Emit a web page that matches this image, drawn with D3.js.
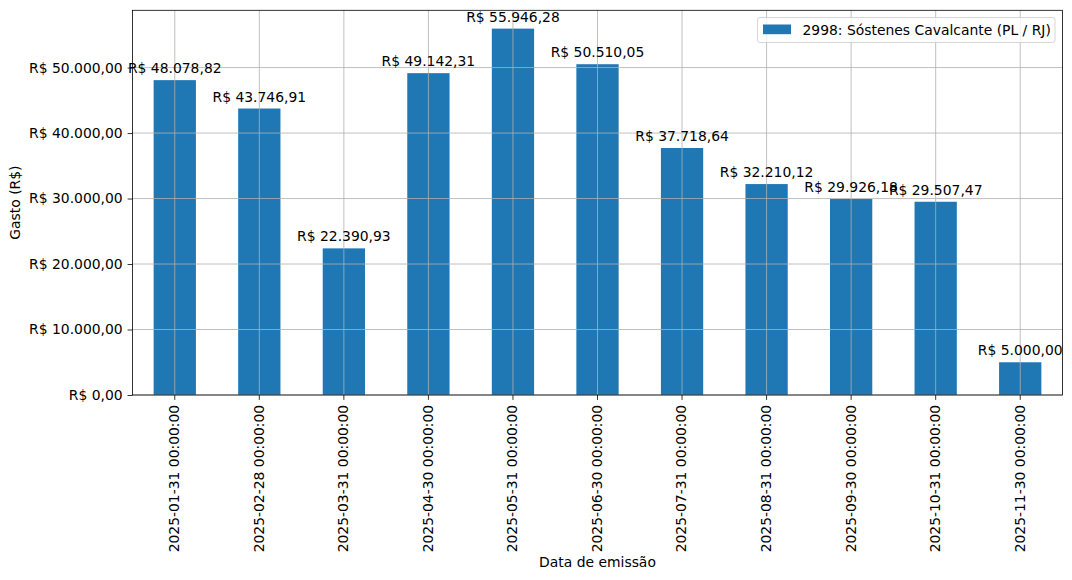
<!DOCTYPE html>
<html><head><meta charset="utf-8">
<script src="https://cdn.jsdelivr.net/npm/d3@7"></script>
<style>
body{margin:0;background:#fff;}
text{font-family:"DejaVu Sans",sans-serif;fill:#000;}
</style></head>
<body><svg id="c" width="1072" height="580"></svg>
<script>
const categories = ["2025-01-31 00:00:00","2025-02-28 00:00:00","2025-03-31 00:00:00","2025-04-30 00:00:00","2025-05-31 00:00:00","2025-06-30 00:00:00","2025-07-31 00:00:00","2025-08-31 00:00:00","2025-09-30 00:00:00","2025-10-31 00:00:00","2025-11-30 00:00:00"];
const values = [48078.82,43746.91,22390.93,49142.31,55946.28,50510.05,37718.64,32210.12,29926.18,29507.47,5000.00];
const yTicks = [0,10000,20000,30000,40000,50000];
const seriesName = "2998: Sóstenes Cavalcante (PL / RJ)";
const xLabel = "Data de emissão";
const yLabel = "Gasto (R$)";

const fmt = v => "R$ " + v.toFixed(2).replace(".", ",").replace(/\B(?=(\d{3})+(?!\d))/g, ".");
const FS = 13.9;
const L = 132.5, R = 1062.5, T = 10.3, B = 395;
const svg = d3.select("#c");
const x = d3.scaleBand().domain(categories).range([L, R]).paddingInner(0.5).paddingOuter(0.25);
const yMax = d3.max(values) * 1.05;
const y = d3.scaleLinear().domain([0, yMax]).range([B, T]);
const blue = "#1f77b4";

// bars
svg.append("g").selectAll("rect").data(values).join("rect")
  .attr("x", (d,i) => x(categories[i])).attr("width", x.bandwidth())
  .attr("y", d => y(d)).attr("height", d => B - y(d)).attr("fill", blue);

// grid (drawn above bars like matplotlib axisbelow='line')
const grid = svg.append("g").attr("stroke", "#b0b0b0").attr("stroke-width", 0.8);
categories.forEach(c => {
  const cx = x(c) + x.bandwidth()/2;
  grid.append("line").attr("x1", cx).attr("x2", cx).attr("y1", T).attr("y2", B);
});
yTicks.forEach(t => {
  grid.append("line").attr("x1", L).attr("x2", R).attr("y1", y(t)).attr("y2", y(t));
});

// value labels
svg.append("g").selectAll("text").data(values).join("text")
  .attr("x", (d,i) => x(categories[i]) + x.bandwidth()/2)
  .attr("y", d => y(d) - 7)
  .attr("text-anchor", "middle").attr("font-size", FS)
  .text(d => fmt(d));

// axes
const xAxis = d3.axisBottom(x).tickSize(4.9).tickPadding(4.9);
const gx = svg.append("g").attr("transform", `translate(0,${B})`).call(xAxis);
gx.select(".domain").remove();
gx.selectAll("line").attr("stroke", "#000").attr("stroke-width", 0.8);
gx.selectAll("text").attr("font-size", FS).attr("font-family", "DejaVu Sans")
  .attr("transform", "rotate(-90)").attr("text-anchor", "end")
  .attr("x", -9.8).attr("y", 0).attr("dy", "0.32em");

const yAxis = d3.axisLeft(y).tickValues(yTicks).tickFormat(fmt).tickSize(4.9).tickPadding(4.9);
const gy = svg.append("g").attr("transform", `translate(${L},0)`).call(yAxis);
gy.select(".domain").remove();
gy.selectAll("line").attr("stroke", "#000").attr("stroke-width", 0.8);
gy.selectAll("text").attr("font-size", FS).attr("font-family", "DejaVu Sans");

// frame
svg.append("rect").attr("x", L).attr("y", T).attr("width", R-L).attr("height", B-T)
  .attr("fill", "none").attr("stroke", "#000").attr("stroke-width", 0.8);

// axis labels
svg.append("text").attr("x", (L+R)/2).attr("y", 567).attr("text-anchor", "middle").attr("font-size", FS).text(xLabel);
svg.append("text").attr("transform", `translate(20,${(T+B)/2}) rotate(-90)`).attr("text-anchor", "middle").attr("font-size", FS).text(yLabel);

// legend
const lg = svg.append("g");
lg.append("rect").attr("x", 757.5).attr("y", 17.5).attr("width", 297.5).attr("height", 25).attr("rx", 2.5)
  .attr("fill", "#fff").attr("fill-opacity", 0.8).attr("stroke", "#cccccc").attr("stroke-width", 0.8);
lg.append("rect").attr("x", 763).attr("y", 24.5).attr("width", 28).attr("height", 9.7).attr("fill", blue);
lg.append("text").attr("x", 802.5).attr("y", 34.5).attr("font-size", FS).text(seriesName);
</script></body></html>
